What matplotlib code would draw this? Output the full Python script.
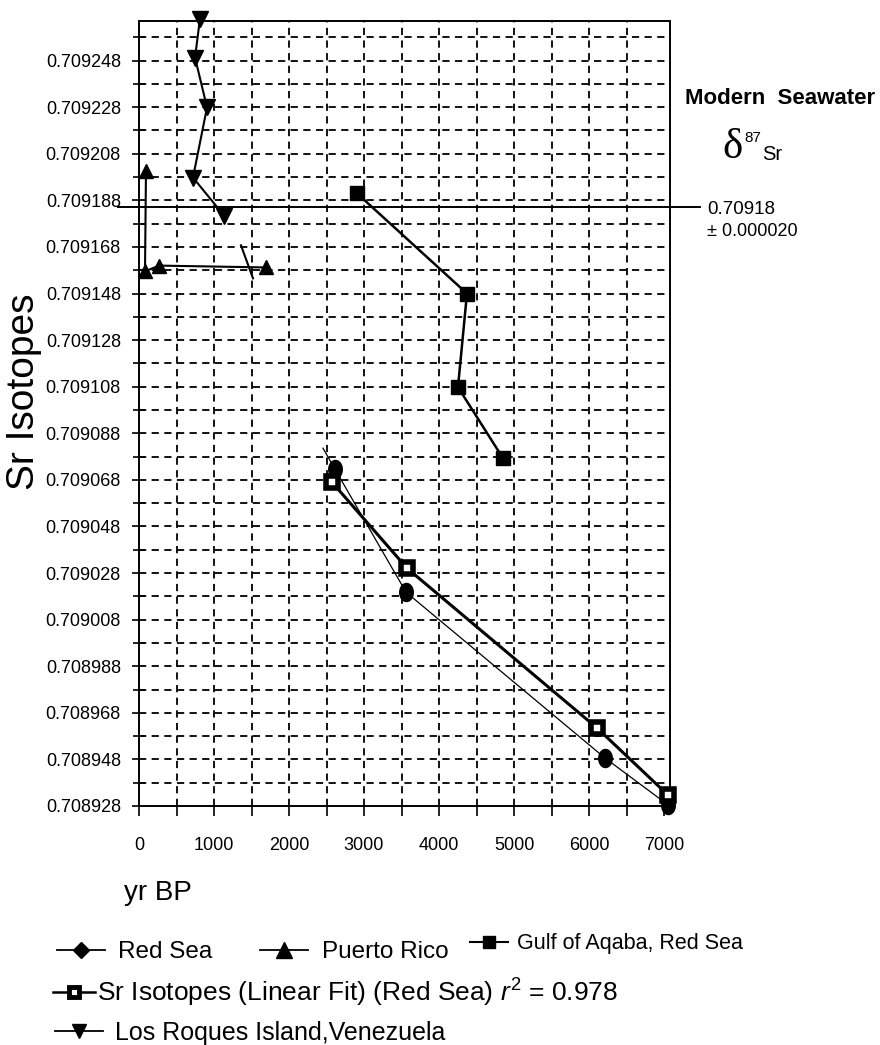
import numpy as np
import matplotlib
matplotlib.use('Agg')
import matplotlib.pyplot as plt
from matplotlib.lines import Line2D
from matplotlib.path import Path

plt.rcParams['font.family'] = ['Liberation Sans', 'DejaVu Sans']
plt.rcParams['mathtext.fontset'] = 'custom'
plt.rcParams['mathtext.rm'] = 'Liberation Sans'
plt.rcParams['mathtext.it'] = 'Liberation Sans:italic'

# ---------------- data ----------------
red_sea_x = [2613, 3560, 6213, 7053]
red_sea_y = [0.7090726, 0.7090198, 0.7089486, 0.7089285]

fit_x = [2573, 3573, 6107, 7053]
fit_y = [0.7090670, 0.7090301, 0.7089615, 0.7089327]

gulf_x = [2907, 4373, 4253, 4853]
gulf_y = [0.7091910, 0.7091480, 0.7091078, 0.7090773]

pr_x = [93, 80, 267, 1693]
pr_y = [0.7092008, 0.7091575, 0.7091600, 0.7091592]

lr_x = [813, 747, 907, 720, 1133]
lr_y = [0.7092660, 0.7092493, 0.7092279, 0.7091978, 0.7091815]

# loose line fragments drawn on the original
frag_x = [1360, 1520]
frag_y = [0.7091687, 0.7091545]
tail_x = [2453, 2613]
tail_y = [0.7090816, 0.7090726]

seawater_line = 0.709185
seawater_label = "0.70918"
seawater_err = "\u00b1 0.000020"

x_ticks = [0, 1000, 2000, 3000, 4000, 5000, 6000, 7000]
y_ticks = [0.708928 + 0.000020 * k for k in range(17)]
y_tick_labels = ["%.6f" % v for v in y_ticks]

# ---------------- figure ----------------
W, H = 880, 1045
fig = plt.figure(figsize=(W / 100, H / 100), dpi=100)
L, R, T, B = 139, 670, 21, 806
ax = fig.add_axes([L / W, 1 - B / H, (R - L) / W, (B - T) / H])
ax.set_xlim(0, 7080)
ax.set_ylim(0.708928, 0.709265)

# grid (dashed)
grid_style = dict(color='black', lw=1.3, linestyle=(0, (4, 3)), zorder=0.5)
for gx in np.arange(500, 7000, 500):
    ax.axvline(gx, **grid_style)
for gy in [0.708928 + 0.000010 * k for k in range(1, 34)]:
    ax.axhline(gy, **grid_style)

# seawater reference line
ax.axhline(seawater_line, xmin=-0.04, xmax=1.057, color='black', lw=1.4,
           clip_on=False, zorder=2)

# ellipse marker for Red Sea
th = np.linspace(0, 2 * np.pi, 40)
ell = Path(np.column_stack([0.75 * np.cos(th), np.sin(th)]), closed=True)

ax.plot(red_sea_x, red_sea_y, color='black', lw=0.9, marker=ell, ms=13,
        mfc='black', mec='black', zorder=4, clip_on=False)
ax.plot(tail_x, tail_y, color='black', lw=0.9, zorder=4)
ax.plot(fit_x, fit_y, color='black', lw=2.2, marker='s', ms=8, mew=4,
        mfc='white', mec='black', zorder=5, clip_on=False)
ax.plot(gulf_x, gulf_y, color='black', lw=1.8, marker='s', ms=10.5,
        mfc='black', mec='black', zorder=4)
ax.plot(pr_x, pr_y, color='black', lw=1.5, marker='^', ms=10.5,
        mfc='black', mec='black', zorder=4)
ax.plot(lr_x, lr_y, color='black', lw=1.5, marker='v', ms=11,
        mfc='black', mec='black', zorder=4, clip_on=False)
ax.plot(frag_x, frag_y, color='black', lw=1.5, zorder=4)

# ticks
ax.set_xticks(x_ticks)
ax.set_xticks(np.arange(500, 7000, 1000), minor=True)
ax.set_yticks(y_ticks)
ax.set_yticklabels(y_tick_labels)
ax.set_yticks([0.708938 + 0.000020 * k for k in range(17)], minor=True)
ax.tick_params(axis='both', which='major', labelsize=13, width=1.2,
               color='black')
ax.tick_params(axis='y', which='major', direction='out', length=5, pad=8)
ax.tick_params(axis='y', which='minor', direction='inout', length=8, width=1.2)
ax.tick_params(axis='x', which='major', direction='out', length=7, pad=15)
ax.tick_params(axis='x', which='minor', direction='out', length=7, width=1.2)
for s in ax.spines.values():
    s.set_linewidth(1.4)
    s.set_color('black')

# axis labels
fig.text(24 / W, 1 - 392 / H, 'Sr Isotopes', rotation=90, ha='center',
         va='center', fontsize=28)
fig.text(158 / W, 1 - 893 / H, 'yr BP', ha='center', va='center', fontsize=20)

# right-hand annotations
fig.text(685 / W, 1 - 98 / H, 'Modern  Seawater', ha='left', va='center',
         fontsize=16, fontweight='bold')
fig.text(722 / W, 1 - 148 / H, '\u03b4', ha='left', va='center', fontsize=31,
         family=['Liberation Serif', 'DejaVu Serif'])
fig.text(744 / W, 1 - 138 / H, '87', ha='left', va='center', fontsize=11)
fig.text(762 / W, 1 - 155 / H, 'Sr', ha='left', va='center', fontsize=14.5)
fig.text(707 / W, 1 - 210 / H, seawater_label, ha='left', va='center',
         fontsize=13.5)
fig.text(707 / W, 1 - 232 / H, seawater_err, ha='left', va='center',
         fontsize=13)

# legend (several pieces, placed as in the original)
h_red = Line2D([], [], color='black', lw=1.3, marker='D', ms=8)
h_pr = Line2D([], [], color='black', lw=1.3, marker='^', ms=11)
h_gulf = Line2D([], [], color='black', lw=1.5, marker='s', ms=9)
h_fit = Line2D([], [], color='black', lw=1.8, marker='s', ms=7, mew=3.5,
               mfc='white', mec='black')
h_lr = Line2D([], [], color='black', lw=1.3, marker='v', ms=10)


def put_legend(handle, label, x0, x1, xt, yc, fs):
    fs_px = fs * 100 / 72
    fig.legend([handle], [label], loc='center left',
               bbox_to_anchor=(x0 / W, 1 - yc / H), frameon=False,
               borderpad=0, borderaxespad=0, fontsize=fs,
               handlelength=(x1 - x0) / fs_px,
               handletextpad=(xt - x1) / fs_px)


put_legend(h_red, 'Red Sea', 57, 105, 118, 952, 17.5)
put_legend(h_pr, 'Puerto Rico', 260, 308, 322, 952, 17.5)
put_legend(h_gulf, 'Gulf of Aqaba, Red Sea', 470, 508, 517, 944, 15.5)
put_legend(h_fit, 'Sr Isotopes (Linear Fit) (Red Sea) $\\it{r}^2$ = 0.978',
           53, 95, 97, 993, 19)
put_legend(h_lr, 'Los Roques Island,Venezuela', 55, 103, 115, 1033, 18)

fig.savefig('out.png', dpi=100)
